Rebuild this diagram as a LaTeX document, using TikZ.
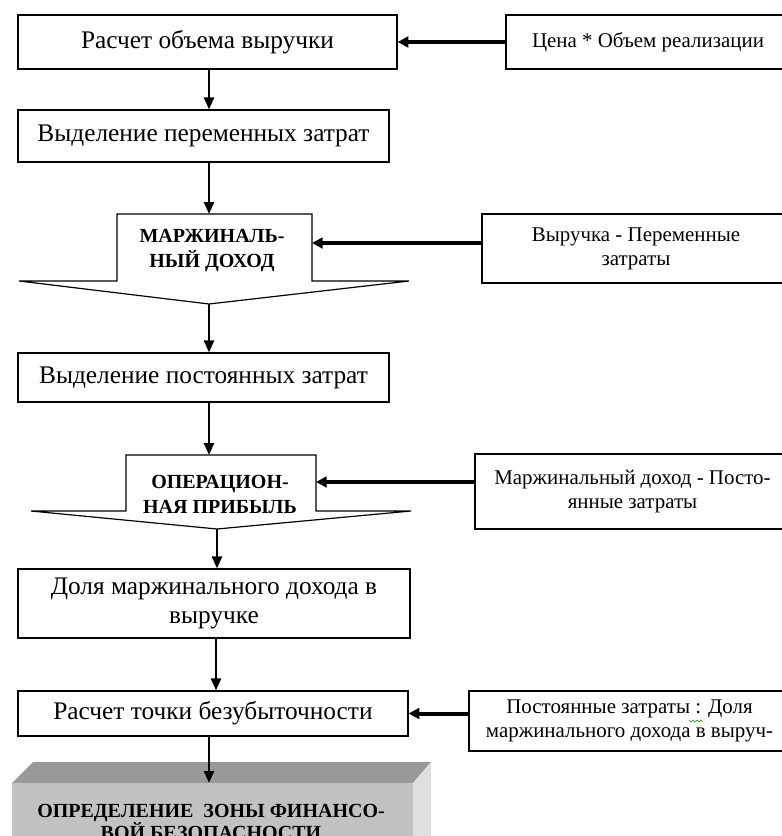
\documentclass[tikz,border=0pt]{standalone}
\usepackage{fontspec}
\setmainfont{Liberation Serif}[BoldFont={Liberation Serif Bold}]
\usetikzlibrary{arrows.meta}
\definecolor{topface}{gray}{0.6}
\definecolor{frontface}{gray}{0.76}
\definecolor{sideface}{gray}{0.88}
\begin{document}
\begin{tikzpicture}[x=0.75pt,y=-0.75pt,
  box/.style={draw, line width=0.9pt, inner sep=0pt, align=center, font=\fontsize{19}{21.75}\selectfont},
  rbox/.style={draw, line width=0.9pt, inner sep=0pt, align=center, font=\fontsize{15.7}{18}\selectfont},
  btxt/.style={inner sep=0pt, align=center, font=\fontsize{15}{18.75}\selectfont\bfseries},
  arrowshape/.style={draw, line width=0.9pt, fill=white, line join=miter},
  vflow/.style={line width=1.9pt, -{Triangle[length=9pt,width=7.5pt]}},
  hflow/.style={line width=3pt, -{Triangle[length=8pt,width=8pt]}}]
\clip (0,0) rectangle (782,836);
\fill[white] (0,0) rectangle (782,836);

% main column boxes
\node[box, minimum width=284.25pt, minimum height=40.5pt] (b1) at (207.5,42) {Расчет объема выручки};
\node[box, minimum width=278.25pt, minimum height=39pt] (b2) at (203.5,136) {Выделение переменных затрат};
\node[box, minimum width=278.25pt, minimum height=36.75pt] (b3) at (203.5,377.5) {Выделение постоянных затрат};
\node[box, minimum width=294pt, minimum height=51.75pt] (b4) at (214,603.5) {Доля маржинального дохода в\\выручке};
\node[box, minimum width=292.5pt, minimum height=33.75pt] (b5) at (213,713.5) {Расчет точки безубыточности};

% right boxes
\node[rbox, minimum width=213pt, minimum height=40.5pt] (r1) at (648,42) {Цена * Объем реализации};
\node[rbox, minimum width=231pt, minimum height=51.75pt] (r2) at (636,248.5) {Выручка - Переменные\\затраты};
\node[rbox, minimum width=236.25pt, minimum height=56.25pt] (r3) at (632.5,491.5) {Маржинальный доход - Посто-\\янные затраты};
\node[rbox, minimum width=240.75pt, minimum height=45pt] (r4) at (629.5,721) {Постоянные затраты : Доля\\маржинального дохода в выруч-};

% first arrow shape
\coordinate (p1a) at (117,214);
\coordinate (p1b) at (312,214);
\coordinate (p1c) at (312,281);
\coordinate (p1d) at (409,281);
\coordinate (p1tip) at (209,304);
\coordinate (p1e) at (19,281);
\coordinate (p1f) at (117,281);
\draw[arrowshape] (p1f) -- (p1a) -- (p1b) -- (p1c) -- (p1d) -- (p1tip) -- (p1e) -- cycle;
\node[btxt] (p1) at (212,251) {МАРЖИНАЛЬ-\\НЫЙ ДОХОД};

% second arrow shape
\coordinate (p2a) at (126,455);
\coordinate (p2b) at (316,455);
\coordinate (p2c) at (316,511);
\coordinate (p2d) at (411,511);
\coordinate (p2tip) at (217,529);
\coordinate (p2e) at (31,511);
\coordinate (p2f) at (126,511);
\draw[arrowshape] (p2f) -- (p2a) -- (p2b) -- (p2c) -- (p2d) -- (p2tip) -- (p2e) -- cycle;
\node[btxt] (p2) at (220,494) {ОПЕРАЦИОН-\\НАЯ ПРИБЫЛЬ};

% 3D block
\fill[topface] (12,783) -- (33,762) -- (431,762) -- (413,783) -- cycle;
\fill[sideface] (413,783) -- (431,762) -- (431,860) -- (413,860) -- cycle;
\node[fill=frontface, inner sep=0pt, minimum width=300.75pt, minimum height=57.75pt, anchor=north west] (g) at (12,783) {};
\node[btxt, font=\fontsize{15}{15}\selectfont\bfseries] (gt) at (211,822) {ОПРЕДЕЛЕНИЕ~ ЗОНЫ ФИНАНСО-\\ВОЙ БЕЗОПАСНОСТИ};

% axes for vertical connectors
\coordinate (ax) at (209,0);
\coordinate (ay) at (217,0);
\coordinate (az) at (216,0);
\coordinate (h2) at (0,243);
\coordinate (h3) at (0,482);

\draw[vflow] (b1.south -| ax) -- (b2.north -| ax);
\draw[vflow] (b2.south -| ax) -- (p1a -| ax);
\draw[vflow] (p1tip) -- (b3.north -| ax);
\draw[vflow] (b3.south -| ax) -- (p2a -| ax);
\draw[vflow] (p2tip) -- (b4.north -| ay);
\draw[vflow] (b4.south -| az) -- (b5.north -| az);
\draw[vflow] (b5.south -| ax) -- (g.north -| ax);

\draw[hflow] (r1.west) -- (b1.east);
\draw[hflow] (r2.west |- h2) -- (p1b |- h2);
\draw[hflow] (r3.west |- h3) -- (p2b |- h3);
\draw[hflow] (r4.west |- b5.east) -- (b5.east);

% spelling squiggle
\coordinate (sq) at (689,720);
\draw[green!55!black, line width=0.5pt] (sq) -- ++(2,2) -- ++(2,-2) -- ++(2,2) -- ++(2,-2) -- ++(2,2) -- ++(2,-2) -- ++(2,2);
\end{tikzpicture}
\end{document}
